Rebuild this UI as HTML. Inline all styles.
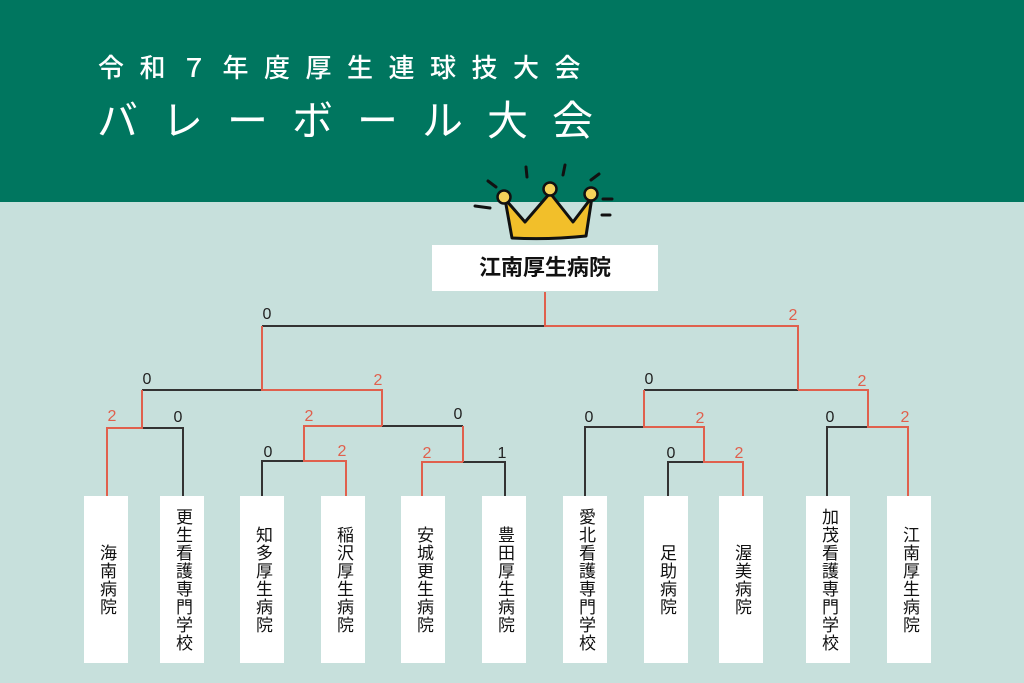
<!DOCTYPE html>
<html><head><meta charset="utf-8"><style>
body{margin:0;width:1024px;height:683px;overflow:hidden;background:#c7e0dc;font-family:"Liberation Sans","Noto Sans CJK JP",sans-serif;position:relative}
.hdr{position:absolute;left:0;top:0;width:1024px;height:202px;background:#00765f}
.t1{position:absolute;left:98px;top:50px;color:#fff;font-size:26px;letter-spacing:15.5px;line-height:36px;white-space:nowrap;font-weight:500}
.t2{position:absolute;left:97px;top:94px;color:#fff;font-size:41px;letter-spacing:24px;line-height:54px;white-space:nowrap}
.win{position:absolute;left:432px;top:245px;width:226px;height:46px;background:#fff;text-align:center;line-height:46px;font-size:22px;font-weight:bold;color:#111}
.box{position:absolute;top:496px;width:44px;height:167px;background:#fff;display:flex;align-items:center;justify-content:center}
.box span{writing-mode:vertical-rl;font-size:17px;line-height:18px;letter-spacing:1px;color:#111}
svg{position:absolute;left:0;top:0}
</style></head><body>
<div class="hdr"></div>
<div class="t1">令和７年度厚生連球技大会</div>
<div class="t2">バレーボール大会</div>
<svg width="1024" height="683">
<g stroke="#111" stroke-width="3" stroke-linecap="round">
<line x1="488" y1="181" x2="496" y2="187"/><line x1="526" y1="167" x2="527" y2="177"/>
<line x1="565" y1="165" x2="563" y2="175"/><line x1="599" y1="174" x2="591" y2="180"/>
<line x1="475" y1="206" x2="490" y2="208"/><line x1="603" y1="199" x2="612" y2="199"/>
<line x1="602" y1="215" x2="610" y2="215"/>
</g>
<path d="M505 199 L525 222 L550 193 L573 222 L592 197 L586 236 Q548 240 512 238 Z" fill="#f2bf2a" stroke="#111" stroke-width="3" stroke-linejoin="round"/>
<circle cx="504" cy="197" r="6.5" fill="#f5d35a" stroke="#111" stroke-width="2.5"/>
<circle cx="550" cy="189" r="6.5" fill="#f5d35a" stroke="#111" stroke-width="2.5"/>
<circle cx="591" cy="194" r="6.5" fill="#f5d35a" stroke="#111" stroke-width="2.5"/>
<g fill="none" stroke-width="2">
<g stroke="#333">
<polyline points="262,326 545,326"/>
<polyline points="142,390 262,390"/>
<polyline points="142,428 183,428 183,496"/>
<polyline points="382,426 463,426"/>
<polyline points="262,496 262,461 304,461"/>
<polyline points="463,462 505,462 505,496"/>
<polyline points="644,390 798,390"/>
<polyline points="585,496 585,427 644,427"/>
<polyline points="668,496 668,462 704,462"/>
<polyline points="827,496 827,427 868,427"/>
</g>
<g stroke="#e0604d">
<polyline points="545,292 545,326 798,326 798,390"/>
<polyline points="262,326 262,390 382,390 382,426"/>
<polyline points="142,390 142,428 107,428 107,496"/>
<polyline points="463,462 463,426"/>
<polyline points="382,426 304,426 304,461 346,461 346,496"/>
<polyline points="463,462 422,462 422,496"/>
<polyline points="798,390 868,390 868,427 908,427 908,496"/>
<polyline points="644,390 644,427 704,427 704,462 743,462 743,496"/>
</g>
</g>
<g font-family="Liberation Sans,sans-serif" font-size="16" text-anchor="middle">
<g fill="#222">
<text x="267" y="319">0</text><text x="147" y="384">0</text><text x="178" y="422">0</text>
<text x="458" y="419">0</text><text x="268" y="457">0</text><text x="502" y="458">1</text>
<text x="649" y="384">0</text><text x="589" y="422">0</text><text x="671" y="458">0</text><text x="830" y="422">0</text>
</g>
<g fill="#e0604d">
<text x="793" y="320">2</text><text x="378" y="385">2</text><text x="112" y="421">2</text>
<text x="309" y="421">2</text><text x="342" y="456">2</text><text x="427" y="458">2</text>
<text x="862" y="386">2</text><text x="700" y="423">2</text><text x="739" y="458">2</text><text x="905" y="422">2</text>
</g>
</g>
</svg>
<div class="win">江南厚生病院</div>
<div class="box" style="left:84px"><span>海南病院</span></div>
<div class="box" style="left:160px"><span>更生看護専門学校</span></div>
<div class="box" style="left:240px"><span>知多厚生病院</span></div>
<div class="box" style="left:321px"><span>稲沢厚生病院</span></div>
<div class="box" style="left:401px"><span>安城更生病院</span></div>
<div class="box" style="left:482px"><span>豊田厚生病院</span></div>
<div class="box" style="left:563px"><span>愛北看護専門学校</span></div>
<div class="box" style="left:644px"><span>足助病院</span></div>
<div class="box" style="left:719px"><span>渥美病院</span></div>
<div class="box" style="left:806px"><span>加茂看護専門学校</span></div>
<div class="box" style="left:887px"><span>江南厚生病院</span></div>
</body></html>
